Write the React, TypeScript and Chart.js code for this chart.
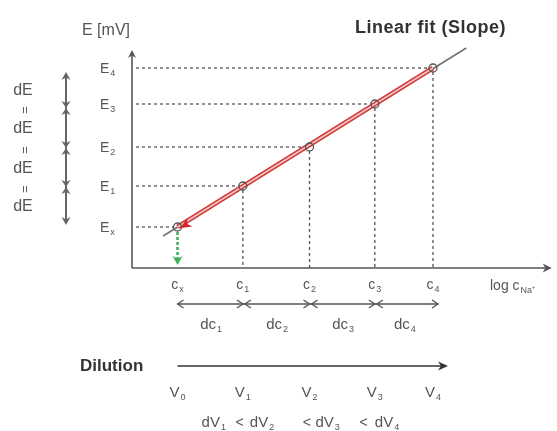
import { useEffect, useRef } from "react";
import { Chart, registerables } from "chart.js";

Chart.register(...registerables);

// ---- data ----
const levelSubs = ["x", "1", "2", "3", "4"];
const logC = [-3.0, -2.5, -1.99, -1.49, -1.045];
const potentialE = [100, 120.5, 140, 161.5, 179.5];
const fitLogC = [-3.11, -0.79];
const fitE = [95.5, 189.5];
const volumeSubs = ["0", "1", "2", "3", "4"];
const stepSubs = ["1", "2", "3", "4"];
const X_MIN = -3.3485;
const X_MAX = -0.1364;
const Y_MIN = 79.5;
const Y_MAX = 188.5;

const FONT = '"Liberation Sans", Arial, Helvetica, sans-serif';
const GRAY = "#555555";
const DARK = "#333333";

function subText(
  ctx: CanvasRenderingContext2D,
  base: string,
  sub: string,
  x: number,
  y: number,
  size: number,
  align: "left" | "center",
  color: string,
  bold = false
) {
  const mainFont = `${bold ? "bold " : ""}${size}px ${FONT}`;
  const subSize = Math.round(size * 0.62);
  const subFont = `${subSize}px ${FONT}`;
  ctx.font = mainFont;
  const wb = ctx.measureText(base).width;
  ctx.font = subFont;
  const ws = sub ? ctx.measureText(sub).width + 1 : 0;
  const total = wb + ws;
  const x0 = align === "center" ? x - total / 2 : x;
  ctx.textAlign = "left";
  ctx.textBaseline = "middle";
  ctx.fillStyle = color;
  ctx.font = mainFont;
  ctx.fillText(base, x0, y);
  if (sub) {
    ctx.font = subFont;
    ctx.fillText(sub, x0 + wb + 1, y + size * 0.3);
  }
  return total;
}

function head(
  ctx: CanvasRenderingContext2D,
  tx: number,
  ty: number,
  angle: number,
  len: number,
  half: number,
  color: string
) {
  ctx.save();
  ctx.translate(tx, ty);
  ctx.rotate(angle);
  ctx.beginPath();
  ctx.moveTo(0, 0);
  ctx.lineTo(-len, -half);
  ctx.lineTo(-len * 0.7, 0);
  ctx.lineTo(-len, half);
  ctx.closePath();
  ctx.fillStyle = color;
  ctx.fill();
  ctx.restore();
}

function openHead(
  ctx: CanvasRenderingContext2D,
  tx: number,
  ty: number,
  angle: number,
  len: number,
  half: number,
  color: string
) {
  ctx.save();
  ctx.translate(tx, ty);
  ctx.rotate(angle);
  ctx.beginPath();
  ctx.moveTo(-len, -half);
  ctx.lineTo(0, 0);
  ctx.lineTo(-len, half);
  ctx.strokeStyle = color;
  ctx.lineWidth = 1.3;
  ctx.stroke();
  ctx.restore();
}

function line(
  ctx: CanvasRenderingContext2D,
  x1: number,
  y1: number,
  x2: number,
  y2: number,
  color: string,
  width: number,
  dash: number[] = []
) {
  ctx.save();
  ctx.beginPath();
  ctx.setLineDash(dash);
  ctx.strokeStyle = color;
  ctx.lineWidth = width;
  ctx.moveTo(x1, y1);
  ctx.lineTo(x2, y2);
  ctx.stroke();
  ctx.restore();
}

const diagramPlugin = {
  id: "diagram",
  beforeDatasetsDraw(chart: any) {
    const { ctx, chartArea: a, scales } = chart;
    const xs = scales.x;
    const ys = scales.y;
    const px = logC.map((v) => xs.getPixelForValue(v));
    const py = potentialE.map((v) => ys.getPixelForValue(v));

    // dashed guides
    for (let i = 0; i < px.length; i++) {
      line(ctx, a.left + 4, py[i], px[i] - 4, py[i], GRAY, 1.3, [3, 3]);
      if (i > 0) line(ctx, px[i], py[i] + 4, px[i], a.bottom, GRAY, 1.3, [3, 3]);
    }
    // green arrow from Ex down to the axis
    line(ctx, px[0], py[0] + 5, px[0], a.bottom - 8, "#3fae5a", 2.5, [3, 2]);
    head(ctx, px[0], a.bottom - 3, Math.PI / 2, 9, 5, "#3fae5a");

    // axes
    line(ctx, a.left, a.bottom, a.left, a.top + 2, GRAY, 1.6);
    head(ctx, a.left, a.top, -Math.PI / 2, 8, 4, GRAY);
    line(ctx, a.left, a.bottom, a.right - 3, a.bottom, GRAY, 1.6);
    head(ctx, a.right, a.bottom, 0, 9, 4.5, GRAY);
  },
  afterDatasetsDraw(chart: any) {
    const { ctx, chartArea: a, scales } = chart;
    const xs = scales.x;
    const ys = scales.y;
    const px = logC.map((v) => xs.getPixelForValue(v));
    const py = potentialE.map((v) => ys.getPixelForValue(v));

    // red arrowhead at Ex
    const ang = Math.atan2(py[0] - py[4], px[0] - px[4]);
    head(ctx, px[0] + 3, py[0] + 1, ang, 11, 5, "#d0252b");

    // titles
    ctx.textBaseline = "middle";
    ctx.textAlign = "left";
    ctx.fillStyle = GRAY;
    ctx.font = `16px ${FONT}`;
    ctx.fillText("E [mV]", 82, 31);
    ctx.save();
    ctx.fillStyle = DARK;
    ctx.font = `bold 18px ${FONT}`;
    (ctx as any).letterSpacing = "0.5px";
    ctx.fillText("Linear fit (Slope)", 355, 28);
    ctx.restore();

    // E tick labels
    for (let i = 0; i < py.length; i++) {
      subText(ctx, "E", levelSubs[i], 100, py[i] + 1, 14, "left", GRAY);
    }
    // c tick labels
    for (let i = 0; i < px.length; i++) {
      subText(ctx, "c", levelSubs[i], px[i], a.bottom + 17, 14, "center", GRAY);
    }
    subText(ctx, "log c", "Na⁺", 490, a.bottom + 18, 14, "left", GRAY);

    // dc double arrows
    const yd = a.bottom + 36;
    const xEnd = px[4] + 5;
    line(ctx, px[0], yd, xEnd, yd, GRAY, 1.3);
    openHead(ctx, px[0], yd, Math.PI, 6, 4, GRAY);
    openHead(ctx, xEnd, yd, 0, 6, 4, GRAY);
    for (let i = 1; i < 4; i++) {
      const jx = px[i] + 1;
      openHead(ctx, jx - 1, yd, 0, 6, 4, GRAY);
      openHead(ctx, jx + 1, yd, Math.PI, 6, 4, GRAY);
    }
    for (let i = 0; i < 4; i++) {
      subText(ctx, "dc", stepSubs[i], (px[i] + px[i + 1]) / 2 + 1, a.bottom + 57, 15, "center", GRAY);
    }

    // Dilution arrow
    const yDil = a.bottom + 98;
    ctx.fillStyle = DARK;
    ctx.font = `bold 17px ${FONT}`;
    ctx.textAlign = "left";
    ctx.fillText("Dilution", 80, yDil);
    line(ctx, px[0], yDil, px[4] + 8, yDil, DARK, 1.6);
    head(ctx, px[4] + 15, yDil, 0, 10, 4.5, DARK);

    // V labels
    for (let i = 0; i < px.length; i++) {
      subText(ctx, "V", volumeSubs[i], px[i], a.bottom + 125, 15, "center", GRAY);
    }
    // dV inequality row
    const yv = a.bottom + 155;
    const dvStart = [px[0] + 24, px[1] + 7, px[2] + 6, px[3]];
    const ltAt = [px[0] + 62, px[1] + 64, px[2] + 54];
    for (let i = 0; i < 4; i++) {
      subText(ctx, "dV", stepSubs[i], dvStart[i], yv, 15, "left", GRAY);
      if (i < 3) {
        ctx.font = `14px ${FONT}`;
        ctx.fillStyle = GRAY;
        ctx.textAlign = "center";
        ctx.fillText("<", ltAt[i], yv);
        ctx.textAlign = "left";
      }
    }

    // left dE column with the segmented double arrow
    const ax = 66;
    const top = py[4] + 4;
    const bot = py[0] - 2;
    line(ctx, ax, top + 3, ax, bot - 3, "#666666", 2);
    head(ctx, ax, top, -Math.PI / 2, 8, 4.5, "#666666");
    head(ctx, ax, bot, Math.PI / 2, 8, 4.5, "#666666");
    const marks = [top];
    for (let i = 3; i >= 1; i--) {
      const jy = py[i] + (i === 3 ? 4 : 1);
      marks.push(jy);
      head(ctx, ax, jy, Math.PI / 2, 7, 4.5, "#666666");
      head(ctx, ax, jy, -Math.PI / 2, 7, 4.5, "#666666");
    }
    marks.push(bot);
    ctx.font = `16px ${FONT}`;
    ctx.fillStyle = GRAY;
    ctx.textAlign = "center";
    ctx.textBaseline = "middle";
    for (let i = 0; i < 4; i++) {
      ctx.fillText("dE", 23, (marks[i] + marks[i + 1]) / 2 + 1);
    }
    for (let i = 1; i < 4; i++) {
      ctx.save();
      ctx.translate(25, marks[i] + 2);
      ctx.rotate(Math.PI / 2);
      ctx.font = `13px ${FONT}`;
      ctx.textAlign = "center";
      ctx.textBaseline = "middle";
      ctx.fillText("=", 0, 0);
      ctx.restore();
    }
  },
};

export default function App() {
  const ref = useRef<HTMLCanvasElement | null>(null);
  useEffect(() => {
    if (!ref.current) return;
    const pts = logC.map((x, i) => ({ x, y: potentialE[i] }));
    const chart = new Chart(ref.current, {
      type: "scatter",
      data: {
        datasets: [
          {
            label: "points",
            data: pts,
            showLine: false,
            pointRadius: 4,
            pointBorderWidth: 1.3,
            pointBorderColor: "#555555",
            pointBackgroundColor: "rgba(255,255,255,0)",
          },
          {
            label: "inner",
            data: [pts[0], pts[4]],
            showLine: true,
            borderColor: "#f7c6c0",
            borderWidth: 1.5,
            pointRadius: 0,
          },
          {
            label: "outer",
            data: [pts[0], pts[4]],
            showLine: true,
            borderColor: "#cf3a3c",
            borderWidth: 5,
            pointRadius: 0,
          },
          {
            label: "fit",
            data: fitLogC.map((x, i) => ({ x, y: fitE[i] })),
            showLine: true,
            borderColor: "#707070",
            borderWidth: 1.5,
            pointRadius: 0,
            clip: false as any,
          },
        ],
      },
      options: {
        animation: false,
        responsive: false,
        devicePixelRatio: 1,
        layout: { padding: { left: 132, right: 1, top: 50, bottom: 163 } },
        plugins: { legend: { display: false }, tooltip: { enabled: false }, title: { display: false } },
        scales: {
          x: { type: "linear", min: X_MIN, max: X_MAX, display: false },
          y: { type: "linear", min: Y_MIN, max: Y_MAX, display: false },
        },
        events: [],
      },
      plugins: [diagramPlugin],
    });
    return () => chart.destroy();
  }, []);
  return (
    <div style={{ position: "fixed", left: 0, top: 0, width: 557, height: 431, background: "#fff" }}>
      <canvas ref={ref} width={557} height={431} style={{ display: "block" }} />
    </div>
  );
}
